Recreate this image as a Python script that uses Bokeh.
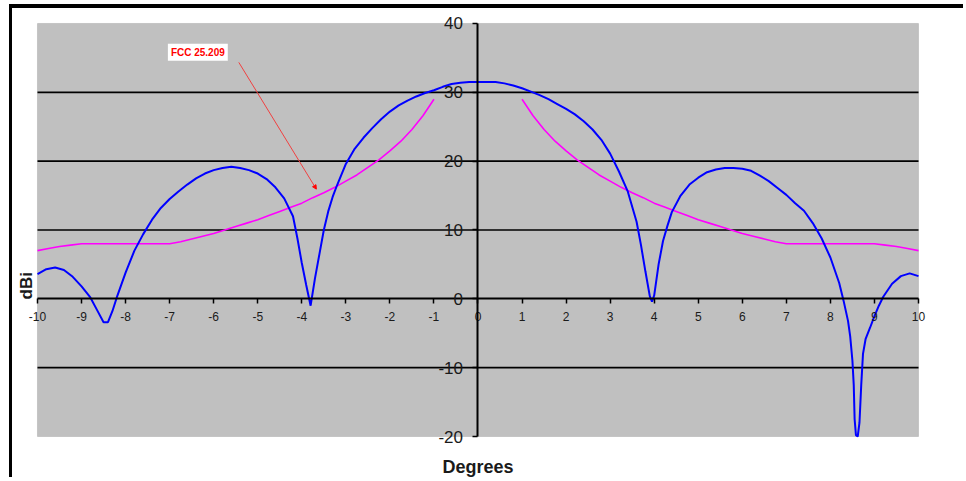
from bokeh.plotting import figure
from bokeh.models import (Label, Arrow, NormalHead, FixedTicker, Range1d, BoxAnnotation,
                          PrintfTickFormatter)
from bokeh.embed import file_html
from bokeh.resources import INLINE

# Antenna gain pattern (blue), degrees vs dBi
pattern_deg = [-10.0, -9.8, -9.6, -9.4, -9.2, -9.0, -8.8, -8.65, -8.5, -8.4, -8.3, -8.2,
               -8.0, -7.8, -7.6, -7.4, -7.2, -7.0, -6.8, -6.6, -6.4, -6.2, -6.0, -5.8,
               -5.6, -5.4, -5.2, -5.0, -4.8, -4.6, -4.4, -4.2, -4.1, -4.0, -3.9, -3.8,
               -3.7, -3.6, -3.5, -3.4, -3.3, -3.2, -3.0, -2.8, -2.6, -2.4, -2.2, -2.0,
               -1.8, -1.6, -1.4, -1.2, -1.0, -0.8, -0.6, -0.4, -0.2, 0.0,
               0.2, 0.4, 0.6, 0.8, 1.0, 1.2, 1.4, 1.6, 1.8, 2.0, 2.2, 2.4, 2.6, 2.8,
               3.0, 3.2, 3.4, 3.6, 3.7, 3.8, 3.9, 3.95, 4.0, 4.1, 4.2, 4.3, 4.4, 4.6,
               4.8, 5.0, 5.2, 5.4, 5.6, 5.8, 6.0, 6.2, 6.4, 6.6, 6.8, 7.0, 7.2, 7.4,
               7.6, 7.8, 8.0, 8.2, 8.3, 8.4, 8.45, 8.5, 8.53, 8.55, 8.58, 8.62, 8.66,
               8.7, 8.74, 8.8, 8.9, 9.0, 9.1, 9.2, 9.4, 9.6, 9.8, 10.0]
pattern_dbi = [3.6, 4.3, 4.55, 4.2, 3.2, 1.8, 0.2, -1.6, -3.4, -3.4, -1.8, 0.2,
               3.8, 7.0, 9.4, 11.5, 13.2, 14.5, 15.6, 16.6, 17.5, 18.2, 18.7, 19.0,
               19.2, 19.0, 18.7, 18.2, 17.4, 16.2, 14.6, 12.0, 8.8, 5.2, 2.0, -1.0,
               3.0, 6.5, 10.0, 12.7, 14.8, 16.5, 19.6, 21.8, 23.4, 24.8, 26.1, 27.2,
               28.1, 28.8, 29.4, 29.9, 30.3, 30.8, 31.2, 31.4, 31.5, 31.5,
               31.5, 31.5, 31.3, 31.0, 30.6, 30.1, 29.6, 29.0, 28.3, 27.6, 26.8, 25.8, 24.6, 23.1,
               21.1, 18.5, 15.6, 11.2, 7.8, 4.0, 0.4, -0.4, 0.5, 5.0, 8.4, 10.6, 12.6, 15.0,
               16.6, 17.6, 18.4, 18.8, 19.0, 19.0, 18.9, 18.6, 17.9, 17.1, 16.1, 15.1, 13.9, 12.8,
               11.0, 8.8, 6.0, 2.3, -0.3, -3.2, -5.5, -9.0, -12.5, -17.5, -19.8, -20.0, -18.0,
               -12.5, -8.0, -5.8, -4.2, -2.5, -1.0, 0.3, 2.2, 3.3, 3.7, 3.3]

# FCC 25.209 mask (magenta), left and right of boresight
mask_left_deg = [-10.0, -9.75, -9.5, -9.25, -9.0, -8.5, -8.0, -7.5, -7.0, -6.75, -6.5, -6.25,
                 -6.0, -5.75, -5.5, -5.25, -5.0, -4.75, -4.5, -4.25, -4.0, -3.75, -3.5,
                 -3.25, -3.0, -2.75, -2.5, -2.25, -2.0, -1.75, -1.5, -1.25, -1.0]
mask_left_dbi = [7.0, 7.3, 7.6, 7.8, 8.0, 8.0, 8.0, 8.0, 8.0, 8.3, 8.7, 9.1,
                 9.5, 10.0, 10.5, 11.0, 11.5, 12.1, 12.7, 13.3, 13.9, 14.7, 15.4,
                 16.2, 17.1, 18.0, 19.1, 20.2, 21.5, 22.9, 24.6, 26.6, 29.0]
mask_right_deg = [1.0, 1.25, 1.5, 1.75, 2.0, 2.25, 2.5, 2.75, 3.0, 3.25, 3.5, 3.75, 4.0,
                  4.25, 4.5, 4.75, 5.0, 5.25, 5.5, 5.75, 6.0, 6.25, 6.5, 6.75, 7.0,
                  7.5, 8.0, 8.5, 9.0, 9.25, 9.5, 9.75, 10.0]
mask_right_dbi = [29.0, 26.6, 24.6, 22.9, 21.5, 20.2, 19.1, 18.0, 17.1, 16.2, 15.4, 14.7, 13.9,
                  13.3, 12.7, 12.1, 11.5, 11.0, 10.5, 10.0, 9.5, 9.1, 8.7, 8.3, 8.0,
                  8.0, 8.0, 8.0, 8.0, 7.8, 7.6, 7.3, 7.0]

x_ticks = list(range(-10, 11))
y_ticks = [-20, -10, 0, 10, 20, 30, 40]
grid_lines = [-10, 10, 20, 30]
x_min, x_max = -10, 10
y_min, y_max = -20, 40

# frame covers the whole canvas; plot area drawn as a box inside it
p = figure(width=954, height=473, output_backend="svg", toolbar_location=None,
           x_range=Range1d(-10.5675, 11.0897), y_range=Range1d(-26.5375, 42.179),
           min_border=0, min_border_left=0, min_border_right=0,
           min_border_top=0, min_border_bottom=0,
           background_fill_color="white", border_fill_color="white",
           outline_line_color=None,
           styles={"margin-top": "4px", "margin-left": "9px",
                   "border-top": "4px solid black", "border-left": "3px solid black"})

p.xgrid.visible = False
p.ygrid.visible = False

p.add_layout(BoxAnnotation(left=x_min, right=x_max, bottom=y_min, top=y_max,
                           fill_color="#C0C0C0", fill_alpha=1,
                           line_color="#8a8a8a", line_width=1, level="underlay"))

p.segment(x0=[x_min] * len(grid_lines), x1=[x_max] * len(grid_lines),
          y0=grid_lines, y1=grid_lines, line_color="black", line_width=1.6)

p.xaxis.fixed_location = 0
p.yaxis.fixed_location = 0
p.xaxis.bounds = (x_min, x_max)
p.yaxis.bounds = (y_min, y_max)
p.xaxis.ticker = FixedTicker(ticks=x_ticks)
p.yaxis.ticker = FixedTicker(ticks=y_ticks)
for ax in (p.xaxis, p.yaxis):
    ax.formatter = PrintfTickFormatter(format="%d")
    ax.axis_line_color = "black"
    ax.axis_line_width = 2
    ax.major_tick_line_color = "black"
    ax.major_tick_line_width = 1.5
    ax.major_tick_in = 0
    ax.major_tick_out = 5
    ax.minor_tick_line_color = None
    ax.major_label_text_font = "Liberation Sans"
    ax.major_label_text_color = "#1a1a1a"
p.xaxis.major_label_text_font_size = "12px"
p.yaxis.major_label_text_font_size = "17px"
p.xaxis.major_label_standoff = 8
p.yaxis.major_label_standoff = 10

p.line(mask_left_deg, mask_left_dbi, line_color="#FF00FF", line_width=1.6)
p.line(mask_right_deg, mask_right_dbi, line_color="#FF00FF", line_width=1.6)
p.line(pattern_deg, pattern_dbi, line_color="#0000FF", line_width=2)

p.add_layout(Label(x=-6.36, y=35.83, text="FCC 25.209", text_color="red",
                   text_font="Liberation Sans", text_font_size="10px", text_font_style="bold",
                   text_align="center", text_baseline="middle",
                   background_fill_color="white", padding=3))
p.add_layout(Arrow(x_start=-5.43, y_start=34.35, x_end=-3.67, y_end=15.94,
                   line_color="#f04040", line_width=1,
                   end=NormalHead(size=4, fill_color="red", line_color="red")))

p.add_layout(Label(x=0, y=-24.5, text="Degrees", text_align="center", text_baseline="middle",
                   text_font="Liberation Sans", text_font_size="18px", text_font_style="bold",
                   text_color="#1a1a1a"))
p.add_layout(Label(x=-10.25, y=1.9, text="dBi", angle=1.5708, text_align="center",
                   text_baseline="middle", text_font="Liberation Sans", text_font_size="17px",
                   text_font_style="bold", text_color="#1a1a1a"))

open("out.html", "w").write(file_html(p, INLINE))
